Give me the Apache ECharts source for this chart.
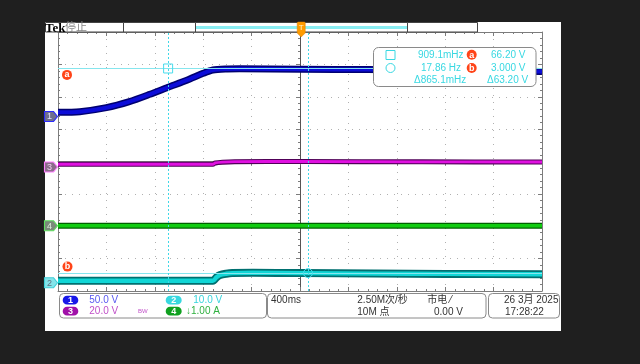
<!DOCTYPE html>
<html><head><meta charset="utf-8">
<script src="https://cdn.jsdelivr.net/npm/echarts@6/dist/echarts.min.js"></script>
<style>html,body{margin:0;padding:0;background:#1f1f1f;}#c{width:640px;height:364px;}</style>
</head><body><div id="c"></div>
<script>
// ---- data (time in s, values in channel units) ----
const timeRange = [-2.01, 1.99];
const ch1Time  = [-2.01, -1.83, -1.61, -1.42, -1.25, -1.10, -0.94, -0.81, -0.73, -0.61, -0.51, 0.0, 0.55, 1.99];
const ch1Volts = [6.5, 7.4, 13.6, 22.9, 34.3, 45.1, 56.4, 66.7, 71.8, 73.4, 73.8, 73.0, 72.5, 69.5];
const ch2Time  = [-2.01, -0.73, -0.70, -0.67, -0.62, -0.57, -0.40, 0.0, 0.60, 1.20, 1.99];
const ch2Volts = [0.62, 0.62, 1.7, 2.4, 2.8, 3.0, 3.1, 3.0, 2.85, 2.75, 2.65];
const ch3Time  = [-2.01, -0.73, -0.71, -0.65, -0.55, 0.0, 1.0, 1.99];
const ch3Volts = [1.7, 1.7, 2.5, 3.0, 3.3, 3.4, 3.2, 3.1];
const ch4Time  = [-2.01, 0.0, 1.99];
const ch4Amps  = [0.0, 0.0, 0.0];
const chScales = [50, 10, 20, 1];          // units per division
const chScaleLabels = ['50.0 V', '10.0 V', '20.0 V', '\u21931.00 A'];
const cursorTimes = [-1.1, 0.056];
const cursorVolts = [66.2, 3.0];
const readout = {
  t1: '909.1mHz', t2: '17.86 Hz', dt: '\u0394865.1mHz',
  va: '66.20 V', vb: '3.000 V', dv: '\u039463.20 V'
};
const acqInfo = { timebase: '400ms', rate: '2.50M\u6b21/\u79d2', trig: '\u5e02\u7535 \u2044', points: '10M \u70b9', level: '0.00 V' };
const dateText = '26 3\u6708 2025';
const timeText = '17:28:22';

// ---- layout / style ----
const chOffsets = [1.39, -3.747, -0.17, -1.983]; // ground position in divisions from centre
const FONT = '"Liberation Sans","Noto Sans CJK SC",sans-serif';
const chart = echarts.init(document.getElementById('c'), null, {width: 640, height: 364});

function zip(t, v) { return t.map((x, i) => [x, v[i]]); }
const gridColor = '#7c7c7c';
function borderAxis(pos, isX) {
  return {
    type: 'value', min: isX ? -5 : -4, max: isX ? 5 : 4, interval: 1, position: pos,
    axisLine: {show: true, onZero: false, lineStyle: {color: gridColor, width: 1}},
    axisTick: {show: true, inside: true, length: 4, lineStyle: {color: gridColor}},
    minorTick: {show: true, splitNumber: 5, length: 2, lineStyle: {color: gridColor}},
    axisLabel: {show: false}, splitLine: {show: false}
  };
}
const xAxes = [
  {type: 'value', min: -5, max: 5, interval: 1, axisLine: {show: false}, axisTick: {show: false}, axisLabel: {show: false},
   splitLine: {show: true, lineStyle: {color: '#b0b0b0', type: [1, 6], width: 1}}},
  {type: 'value', min: -5, max: 5, interval: 1,
   axisLine: {show: true, onZero: true, onZeroAxisIndex: 0, lineStyle: {color: gridColor}},
   axisTick: {show: true, inside: true, length: 4, lineStyle: {color: gridColor}},
   minorTick: {show: true, splitNumber: 5, length: 2, lineStyle: {color: gridColor}},
   axisLabel: {show: false}, splitLine: {show: false}},
  borderAxis('top', true),
  borderAxis('bottom', true),
  {type: 'value', min: timeRange[0], max: timeRange[1], show: false}
];
const yAxes = [
  {type: 'value', min: -4, max: 4, interval: 1, axisLine: {show: false}, axisTick: {show: false}, axisLabel: {show: false},
   splitLine: {show: true, lineStyle: {color: '#b0b0b0', type: [1, 6], width: 1}}},
  {type: 'value', min: -4, max: 4, interval: 1,
   axisLine: {show: true, onZero: true, onZeroAxisIndex: 0, lineStyle: {color: '#555'}},
   axisTick: {show: true, inside: true, length: 4, lineStyle: {color: gridColor}},
   minorTick: {show: true, splitNumber: 5, length: 2, lineStyle: {color: gridColor}},
   axisLabel: {show: false}, splitLine: {show: false}},
  borderAxis('left', false),
  borderAxis('right', false)
];
chScales.forEach((s, i) => {
  yAxes.push({type: 'value', show: false, min: -(4 + chOffsets[i]) * s, max: (4 - chOffsets[i]) * s});
});

const series = [];
// cursor lines (under traces)
series.push({
  type: 'line', xAxisIndex: 4, yAxisIndex: 5, data: [], z: 1, silent: true,
  markLine: {
    silent: true, symbol: 'none', label: {show: false}, animation: false,
    data: [
      {yAxis: cursorVolts[0], lineStyle: {color: '#86e6ee', width: 1, type: 'solid'}},
      {yAxis: cursorVolts[1], lineStyle: {color: '#86e6ee', width: 1, type: 'solid'}},
      {xAxis: cursorTimes[0], lineStyle: {color: '#40d8e8', width: 1, type: [2, 2]}},
      {xAxis: cursorTimes[1], lineStyle: {color: '#40d8e8', width: 1, type: [2, 2]}}
    ]
  }
});
function trace(t, v, yIdx, outer, inner, wo, wi, smooth) {
  const d = zip(t, v);
  [[outer, wo], [inner, wi]].forEach(([c, w], k) => {
    series.push({
      type: 'line', xAxisIndex: 4, yAxisIndex: yIdx, data: d, showSymbol: false, symbol: 'none',
      smooth: smooth, z: 3 + k, silent: true, animation: false,
      lineStyle: {color: c, width: w, cap: 'butt', join: 'round'}
    });
  });
}
trace(ch4Time, ch4Amps, 7, '#006000', '#10cc10', 6, 3.4, false);
trace(ch3Time, ch3Volts, 6, '#500058', '#e010e0', 5, 2.8, 0.3);
trace(ch2Time, ch2Volts, 5, '#007070', '#10d6d6', 8, 4.4, 0.3);
trace(ch1Time, ch1Volts, 4, '#000070', '#0c0cd8', 7, 4, 0.25);

// channel ground markers
const markerStyles = [
  {fill: '#6e6e8e', stroke: '#2a2aff', text: '#e0e0ff'},
  {fill: '#84e4ea', stroke: '#40d0d8', text: '#607080'},
  {fill: '#8a6c8a', stroke: '#ff80ff', text: '#f0d0f0'},
  {fill: '#7a8a7a', stroke: '#60e060', text: '#e0f0e0'}
];
chScales.forEach((s, i) => {
  const st = markerStyles[i];
  series.push({
    type: 'scatter', xAxisIndex: 4, yAxisIndex: 4 + i, data: [[timeRange[0], 0]], z: 6, silent: true, clip: false,
    symbol: 'path://M0,0 L9,0 L13,5 L9,10 L0,10 Z', symbolSize: [13, 10], symbolOffset: [-7, 0],
    itemStyle: {color: st.fill, borderColor: st.stroke, borderWidth: 1, opacity: 1},
    label: {show: true, position: 'inside', offset: [-1.5, 0.5], formatter: String(i + 1), color: st.text, fontSize: 9, fontFamily: FONT}
  });
});
// cursor markers on CH2 scale
series.push({
  type: 'scatter', xAxisIndex: 4, yAxisIndex: 5, z: 7, silent: true, clip: false,
  data: [
    {value: [cursorTimes[0], cursorVolts[0]], symbol: 'rect', symbolSize: 9},
    {value: [cursorTimes[1], cursorVolts[1]], symbol: 'circle', symbolSize: 9}
  ],
  itemStyle: {color: 'rgba(0,0,0,0)', borderColor: '#48dcec', borderWidth: 1, opacity: 1}
});
series.push({
  type: 'scatter', xAxisIndex: 4, yAxisIndex: 5, z: 7, silent: true, clip: false,
  data: [
    {value: [timeRange[0], cursorVolts[0]], symbolOffset: [9, 6.4], label: {formatter: 'a'}},
    {value: [timeRange[0], cursorVolts[1]], symbolOffset: [9.5, -6.5], label: {formatter: 'b'}}
  ],
  symbol: 'circle', symbolSize: 10,
  itemStyle: {color: '#ff4418', opacity: 1},
  label: {show: true, position: 'inside', color: '#fff', fontSize: 9, fontWeight: 'bold', fontFamily: FONT}
});
// trigger position marker
series.push({
  type: 'scatter', xAxisIndex: 4, yAxisIndex: 0, z: 8, zlevel: 1, silent: true, clip: false,
  data: [[0, 4]], symbol: 'path://M1,0 L7,0 Q8,0 8,1 L8,11 L4,15 L0,11 L0,1 Q0,0 1,0 Z',
  symbolSize: [8, 15], symbolOffset: [0, -2.5],
  itemStyle: {color: '#ff9c00', borderColor: '#e08000', borderWidth: 0.5, opacity: 1},
  label: {show: true, position: 'inside', offset: [0, -1.5], formatter: 'T', color: '#fff5d0', fontSize: 8, fontFamily: FONT}
});

// ---- UI decorations ----
const cy = '#38d8e2';
function txt(x, y, s, color, size, extra) {
  return Object.assign({type: 'text', x: x, y: y, z: 100,
    style: {text: s, fill: color, font: (size || 10) + 'px ' + FONT, textVerticalAlign: 'middle', textAlign: 'left'}}, extra || {});
}
function box(x, y, w, h, r, stroke, fill) {
  return {type: 'rect', z: 99, shape: {x: x, y: y, width: w, height: h, r: r || 0},
    style: {fill: fill || 'none', stroke: stroke, lineWidth: 1}};
}
function pill(x, y, w, h, color, label) {
  return [
    {type: 'rect', z: 100, shape: {x: x, y: y, width: w, height: h, r: h / 2}, style: {fill: color}},
    {type: 'text', z: 101, x: x + w / 2, y: y + h / 2 + 0.5,
     style: {text: label, fill: '#fff', font: 'bold 9px ' + FONT, textAlign: 'center', textVerticalAlign: 'middle'}}
  ];
}
function redDot(cx, cyy, l) {
  return [
    {type: 'circle', z: 100, shape: {cx: cx, cy: cyy, r: 5}, style: {fill: '#ff4418'}},
    {type: 'text', z: 101, x: cx, y: cyy + 0.5, style: {text: l, fill: '#fff', font: 'bold 9px ' + FONT, textAlign: 'center', textVerticalAlign: 'middle'}}
  ];
}
const graphics = [
  {type: 'rect', z: -100, shape: {x: 45, y: 22, width: 516, height: 309}, style: {fill: '#ffffff'}},
  // top bar
  box(45.5, 22.5, 78, 9.5, 0, '#444'),
  box(123.5, 22.5, 72, 9.5, 0, '#444'),
  box(195.5, 22.5, 212, 9.5, 0, '#444'),
  box(407.5, 22.5, 70, 9.5, 0, '#444'),
  {type: 'rect', z: 100, shape: {x: 196, y: 26, width: 211, height: 3}, style: {fill: '#8aeef2'}},
  txt(45, 28.5, 'Tek', '#000', 13, {style: {text: 'Tek', fill: '#000', font: 'bold 13px "Liberation Serif",serif', textVerticalAlign: 'middle'}}),
  txt(65, 28, '\u505c\u6b62', '#888', 11),
  // measurement box
  box(373.5, 47.5, 162.5, 39, 5, '#8a8a8a', '#ffffff'),
  {type: 'rect', z: 100, shape: {x: 386, y: 50.5, width: 9, height: 9}, style: {fill: 'none', stroke: cy, lineWidth: 1}},
  {type: 'circle', z: 100, shape: {cx: 390.5, cy: 68, r: 4.5}, style: {fill: 'none', stroke: cy, lineWidth: 1}},
  txt(418, 55, readout.t1, cy, 10),
  txt(421, 68, readout.t2, cy, 10),
  txt(414, 80.5, readout.dt, cy, 10),
  txt(491, 55, readout.va, cy, 10),
  txt(491, 68, readout.vb, cy, 10),
  txt(487, 80.5, readout.dv, cy, 10),
  ...redDot(471.7, 54.7, 'a'),
  ...redDot(471.7, 68, 'b'),
  // bottom info boxes
  box(59.5, 293.5, 207, 24.5, 4, '#8a8a8a'),
  box(267.5, 293.5, 218.5, 24.5, 4, '#8a8a8a'),
  box(488.5, 293.5, 71, 24.5, 4, '#8a8a8a'),
  ...pill(62.7, 295.8, 15.6, 8.8, '#1818e8', '1'),
  ...pill(165.7, 295.8, 16, 8.8, '#38d8e0', '2'),
  ...pill(62.7, 306.8, 15.6, 8.8, '#a010a8', '3'),
  ...pill(165.7, 306.8, 16, 8.8, '#10a020', '4'),
  txt(89.3, 300.3, chScaleLabels[0], '#5858f0', 10),
  txt(193.3, 300.3, chScaleLabels[1], '#38d4dc', 10),
  txt(89.3, 311.5, chScaleLabels[2], '#c050c8', 10),
  txt(186, 311.5, chScaleLabels[3], '#30b040', 10),
  txt(138, 311, 'BW', '#c050c8', 6),
  txt(271, 300.5, acqInfo.timebase, '#333', 10),
  txt(357.3, 300.5, acqInfo.rate, '#333', 10),
  txt(427.3, 300.5, acqInfo.trig, '#333', 10),
  txt(357.3, 311.8, acqInfo.points, '#333', 10),
  txt(434, 311.8, acqInfo.level, '#333', 10),
  txt(504, 300.5, dateText, '#333', 10),
  txt(505, 311.8, timeText, '#333', 10)
];

chart.setOption({
  animation: false,
  backgroundColor: '#1f1f1f',
  grid: {left: 58, top: 32, width: 484, height: 259, containLabel: false},
  xAxis: xAxes,
  yAxis: yAxes,
  series: series,
  graphic: {elements: graphics}
});
</script></body></html>
